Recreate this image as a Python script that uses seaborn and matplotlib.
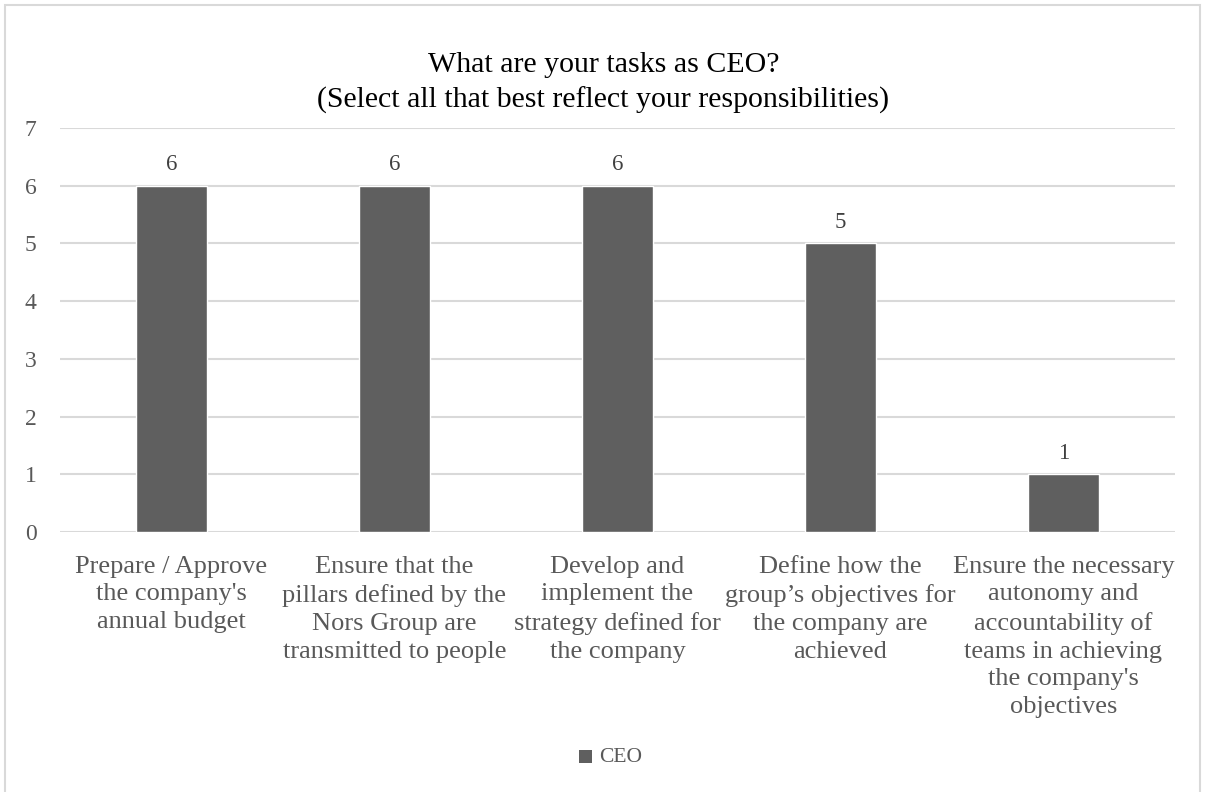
import matplotlib
matplotlib.use("Agg")
import matplotlib.pyplot as plt
import seaborn as sns
import pandas as pd
from matplotlib.patches import Rectangle

categories = [
    "Prepare / Approve\nthe company's\nannual budget",
    "Ensure that the\npillars defined by the\nNors Group are\ntransmitted to people",
    "Develop and\nimplement the\nstrategy defined for\nthe company",
    "Define how the\ngroup\u2019s objectives for\nthe company are\nachieved",
    "Ensure the necessary\nautonomy and\naccountability of\nteams in achieving\nthe company's\nobjectives",
]
values = [6, 6, 6, 5, 1]
series_name = "CEO"
title_lines = ["What are your tasks as CEO?", "(Select all that best reflect your responsibilities)"]
y_ticks = [0, 1, 2, 3, 4, 5, 6, 7]

sns.set_theme(style="white")
plt.rcParams["font.family"] = ["Liberation Serif", "DejaVu Serif"]

W, H = 1207, 792
fig = plt.figure(figsize=(W / 100, H / 100), dpi=100)
fig.patch.set_facecolor("white")

# chart border
fig.add_artist(Rectangle((5 / W, -0.05), (1200 - 5) / W, (H - 5) / H + 0.05,
                         transform=fig.transFigure, fill=False,
                         edgecolor="#d9d9d9", linewidth=1.5))

x0, x1 = 60, 1175
y_top, y_bot = 128, 532
ax = fig.add_axes([x0 / W, 1 - y_bot / H, (x1 - x0) / W, (y_bot - y_top) / H])

df = pd.DataFrame({"task": categories, "count": values, "series": series_name})
sns.barplot(data=df, x="task", y="count", hue="series", palette=["#5f5f5f"],
            width=0.315, ax=ax, legend=False, saturation=1)

ax.set_ylim(0, 7)
ax.set_xlim(-0.5, len(categories) - 0.5)
ax.set_yticks(y_ticks)
ax.yaxis.grid(True, color="#d9d9d9", linewidth=1.5)
ax.set_axisbelow(True)
for s in ["top", "right", "left", "bottom"]:
    ax.spines[s].set_visible(False)
ax.tick_params(axis="both", length=0, colors="#595959", labelsize=17)
ax.tick_params(axis="y", pad=21)
ax.tick_params(axis="x", pad=17)
ax.set_xticks(range(len(categories)))
ax.set_xticklabels(categories, fontsize=19, color="#595959", linespacing=1.345)
ax.set_xlabel("")
ax.set_ylabel("")
for lab in ax.get_yticklabels():
    lab.set_horizontalalignment("center")

for i, v in enumerate(values):
    ax.text(i, v + 0.36, str(v), ha="center", va="center", fontsize=16.5, color="#404040")

fig.text(0.5, 1 - 65 / H, title_lines[0], ha="center", va="center", fontsize=21.5, color="#000000")
fig.text(0.5, 1 - 100 / H, title_lines[1], ha="center", va="center", fontsize=21.5, color="#000000")

# legend
fig.add_artist(Rectangle((579 / W, 1 - 763 / H), 13 / W, 13 / H, transform=fig.transFigure,
                         facecolor="#5f5f5f", edgecolor="none"))
fig.text(599 / W, 1 - 757 / H, series_name, ha="left", va="center", fontsize=15.5, color="#595959")

fig.savefig("out.png", dpi=100)
